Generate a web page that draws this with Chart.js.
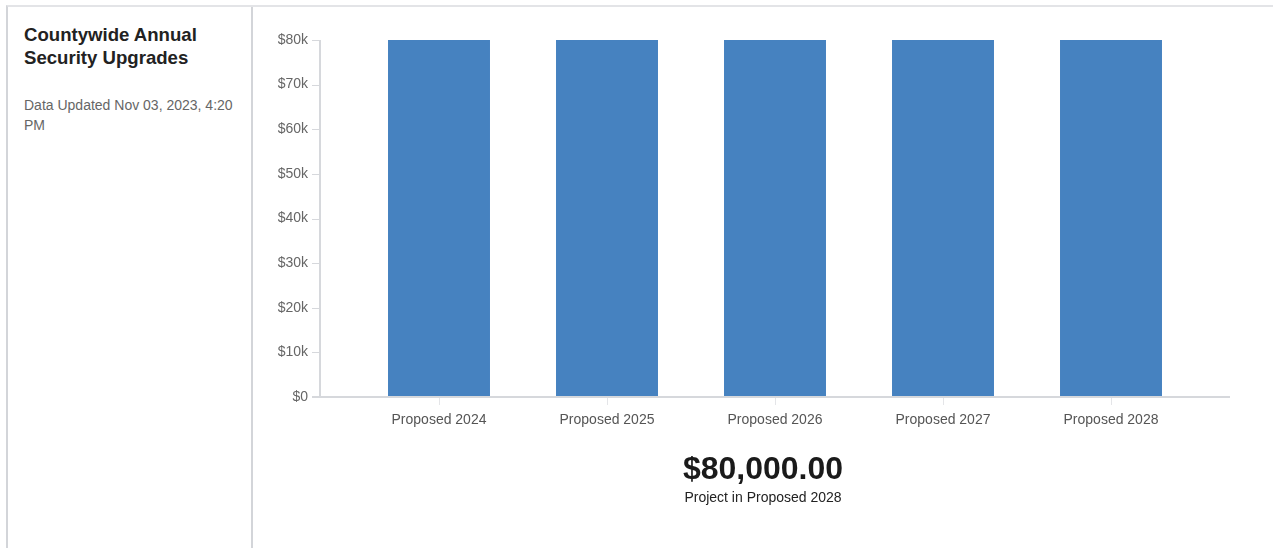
<!DOCTYPE html>
<html>
<head>
<meta charset="utf-8">
<script src="https://cdn.jsdelivr.net/npm/chart.js@4/dist/chart.umd.min.js"></script>
<style>
  html, body { margin: 0; padding: 0; background: #fff; }
  body { width: 1273px; height: 548px; overflow: hidden; font-family: 'Liberation Sans', Arial, sans-serif; }
  .frame {
    position: absolute; left: 6px; top: 5px; right: -2px; bottom: -2px;
    border-top: 2px solid #e3e4e7; border-left: 2px solid #d3d5d9;
  }
  .side {
    position: absolute; left: 8px; top: 7px; width: 243px; bottom: 0;
    border-right: 2px solid #d3d5d9; box-sizing: content-box;
  }
  .side h2 {
    margin: 0; position: absolute; left: 16px; top: 16px; width: 210px;
    font-size: 18.6px; line-height: 23px; font-weight: bold; color: #222;
  }
  .side p {
    margin: 0; position: absolute; left: 16px; top: 88px; width: 215px;
    font-size: 14px; line-height: 20px; color: #666;
  }
  .chart-box { position: absolute; left: 253px; top: 6px; width: 1020px; height: 542px; }
  .total {
    position: absolute; left: 253px; width: 1020px; top: 449px; text-align: center; color: #1a1a1a;
  }
  .total .amount { font-size: 32px; font-weight: bold; line-height: 38px; }
  .total .caption { font-size: 14px; line-height: 16px; color: #222; margin-top: 2px; }
</style>
</head>
<body>
<div class="frame"></div>
<div class="side">
  <h2>Countywide Annual Security Upgrades</h2>
  <p>Data Updated Nov 03, 2023, 4:20 PM</p>
</div>
<div class="chart-box"><canvas id="chart"></canvas></div>
<div class="total">
  <div class="amount" id="amount"></div>
  <div class="caption" id="caption"></div>
</div>
<script>
const years = ['Proposed 2024', 'Proposed 2025', 'Proposed 2026', 'Proposed 2027', 'Proposed 2028'];
const amounts = [80000, 80000, 80000, 80000, 80000];
const yTicks = [0, 10000, 20000, 30000, 40000, 50000, 60000, 70000, 80000];

const AXIS_GAP = 35;
const AXIS_COLOR = '#d6d8dc';

// Оси рисуем сами, с отступом от области графика
const detachedAxes = {
  id: 'detachedAxes',
  afterDraw(chart) {
    const { ctx, chartArea: { top, bottom, left, right }, scales: { x, y } } = chart;
    const axisX = left - AXIS_GAP;
    ctx.save();
    ctx.lineWidth = 2;
    ctx.strokeStyle = AXIS_COLOR;

    ctx.beginPath();
    ctx.moveTo(axisX, top);
    ctx.lineTo(axisX, bottom);
    ctx.moveTo(axisX - 8, bottom);
    ctx.lineTo(right + AXIS_GAP, bottom);
    ctx.stroke();

    // засечки по Y
    ctx.lineWidth = 1;
    ctx.beginPath();
    yTicks.forEach((v) => {
      const py = Math.round(y.getPixelForValue(v)) + 0.5;
      ctx.moveTo(axisX - 8, py);
      ctx.lineTo(axisX, py);
    });
    ctx.stroke();

    // засечки по X
    ctx.strokeStyle = '#e4e5e8';
    ctx.beginPath();
    years.forEach((_, i) => {
      const px = Math.round(x.getPixelForValue(i)) + 0.5;
      ctx.moveTo(px, bottom + 1);
      ctx.lineTo(px, bottom + 8);
    });
    ctx.stroke();
    ctx.restore();
  },
};

const last = amounts.length - 1;
document.getElementById('amount').textContent =
  '$' + amounts[last].toLocaleString('en-US', { minimumFractionDigits: 2, maximumFractionDigits: 2 });
document.getElementById('caption').textContent = 'Project in ' + years[last];

new Chart(document.getElementById('chart'), {
  type: 'bar',
  data: {
    labels: years,
    datasets: [
      {
        data: amounts,
        backgroundColor: '#4682c0',
        categoryPercentage: 1,
        barPercentage: 0.607,
      },
    ],
  },
  options: {
    responsive: true,
    maintainAspectRatio: false,
    animation: false,
    layout: {
      padding: { top: 34, right: 78, left: 0, bottom: 0 },
    },
    plugins: {
      legend: { display: false },
      tooltip: { enabled: false },
    },
    scales: {
      x: {
        offset: true,
        grid: { display: false, drawTicks: false },
        border: { display: false },
        ticks: {
          padding: 15,
          maxRotation: 0,
          color: '#555',
          font: { family: "'Liberation Sans', Arial, sans-serif", size: 14 },
        },
        afterFit(scale) {
          scale.height = 151;
        },
      },
      y: {
        min: 0,
        max: 80000,
        // невидимые засечки только отодвигают подписи от области графика
        grid: { drawOnChartArea: false, drawTicks: true, tickLength: 43, color: 'rgba(0,0,0,0)' },
        border: { display: false },
        afterBuildTicks(scale) {
          scale.ticks = yTicks.map((v) => ({ value: v }));
        },
        ticks: {
          padding: 4,
          color: '#666',
          font: { family: "'Liberation Sans', Arial, sans-serif", size: 14 },
          callback: (v) => (v === 0 ? '$0' : '$' + v / 1000 + 'k'),
        },
        afterFit(scale) {
          scale.width = 102;
        },
      },
    },
  },
  plugins: [detachedAxes],
});
</script>
</body>
</html>
